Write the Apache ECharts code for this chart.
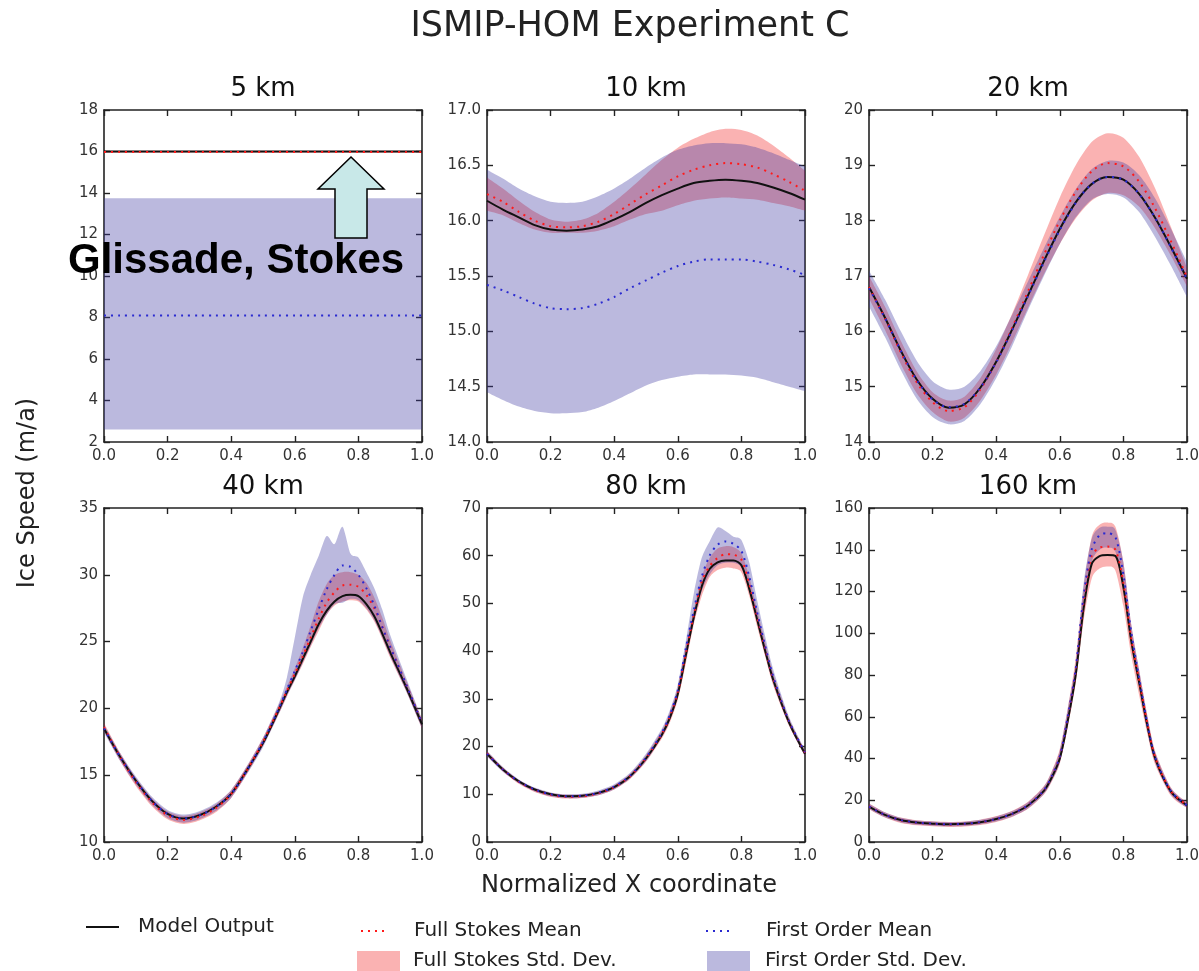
<!DOCTYPE html>
<html><head><meta charset="utf-8">
<script src="https://cdn.jsdelivr.net/npm/echarts@6/dist/echarts.min.js"></script>
<style>html,body{margin:0;padding:0;background:#fff}#c{width:1199px;height:971px}</style>
</head><body><div id="c"></div><script>
// ---------------- DATA ----------------
const panelTitles = ['5 km', '10 km', '20 km', '40 km', '80 km', '160 km'];
const legendNames = ['Model Output', 'Full Stokes Mean', 'Full Stokes Std. Dev.', 'First Order Mean', 'First Order Std. Dev.'];

const xTop = [0,0.05,0.1,0.15,0.2,0.25,0.3,0.35,0.4,0.45,0.5,0.55,0.6,0.65,0.7,0.75,0.8,0.85,0.9,0.95,1.0];
const xBot = [0,0.05,0.1,0.15,0.2,0.25,0.3,0.35,0.4,0.45,0.5,0.55,0.575,0.6,0.625,0.65,0.675,0.7,0.725,0.75,0.775,0.8,0.825,0.85,0.875,0.9,0.95,1.0];

// Y axis ticks [min, max, interval] per panel
const yMin = [2, 14, 14, 10, 0, 0];
const yMax = [18, 17, 20, 35, 70, 160];
const yStep = [2, 0.5, 1, 5, 10, 20];
const yDecimals = [0, 1, 0, 0, 0, 0];
const xTicks = [0, 0.2, 0.4, 0.6, 0.8, 1.0];

// 5 km
const km5_model  = [16.0,16.0,16.0,16.0,16.0,16.0,16.0,16.0,16.0,16.0,16.0,16.0,16.0,16.0,16.0,16.0,16.0,16.0,16.0,16.0,16.0];
const km5_fsMean = [15.98,15.98,15.98,15.98,15.98,15.98,15.98,15.98,15.98,15.98,15.98,15.98,15.98,15.98,15.98,15.98,15.98,15.98,15.98,15.98,15.98];
const km5_fsLo   = [15.94,15.94,15.94,15.94,15.94,15.94,15.94,15.94,15.94,15.94,15.94,15.94,15.94,15.94,15.94,15.94,15.94,15.94,15.94,15.94,15.94];
const km5_fsHi   = [16.04,16.04,16.04,16.04,16.04,16.04,16.04,16.04,16.04,16.04,16.04,16.04,16.04,16.04,16.04,16.04,16.04,16.04,16.04,16.04,16.04];
const km5_foMean = [8.1,8.1,8.1,8.1,8.1,8.1,8.1,8.1,8.1,8.1,8.1,8.1,8.1,8.1,8.1,8.1,8.1,8.1,8.1,8.1,8.1];
const km5_foLo   = [2.6,2.6,2.6,2.6,2.6,2.6,2.6,2.6,2.6,2.6,2.6,2.6,2.6,2.6,2.6,2.6,2.6,2.6,2.6,2.6,2.6];
const km5_foHi   = [13.75,13.75,13.75,13.75,13.75,13.75,13.75,13.75,13.75,13.75,13.75,13.75,13.75,13.75,13.75,13.75,13.75,13.75,13.75,13.75,13.75];

// 10 km
const km10_model  = [16.18,16.10,16.03,15.96,15.92,15.91,15.92,15.95,16.01,16.08,16.16,16.23,16.29,16.34,16.36,16.37,16.36,16.34,16.30,16.25,16.19];
const km10_fsMean = [16.24,16.17,16.08,16.00,15.95,15.94,15.95,15.99,16.06,16.15,16.24,16.32,16.40,16.46,16.50,16.52,16.51,16.48,16.42,16.35,16.27];
const km10_fsLo   = [16.09,16.05,15.98,15.92,15.89,15.89,15.89,15.91,15.95,16.01,16.06,16.09,16.14,16.18,16.20,16.21,16.20,16.19,16.16,16.13,16.09];
const km10_fsHi   = [16.39,16.29,16.18,16.08,16.01,15.99,16.01,16.07,16.17,16.29,16.42,16.55,16.66,16.74,16.80,16.83,16.82,16.77,16.68,16.57,16.45];
const km10_foMean = [15.42,15.37,15.31,15.25,15.21,15.20,15.21,15.25,15.31,15.39,15.46,15.53,15.59,15.63,15.65,15.65,15.65,15.63,15.60,15.56,15.51];
const km10_foLo   = [14.45,14.38,14.32,14.28,14.26,14.26,14.27,14.31,14.37,14.44,14.51,14.56,14.59,14.61,14.61,14.61,14.60,14.58,14.54,14.50,14.46];
const km10_foHi   = [16.46,16.38,16.29,16.22,16.17,16.16,16.17,16.22,16.29,16.38,16.48,16.57,16.64,16.68,16.70,16.70,16.69,16.66,16.61,16.55,16.49];

// 20 km
const km20_model  = [16.80,16.25,15.65,15.13,14.78,14.62,14.68,14.98,15.45,16.03,16.65,17.27,17.85,18.33,18.66,18.79,18.74,18.48,18.05,17.52,16.95];
const km20_fsMean = [16.80,16.24,15.62,15.08,14.72,14.56,14.63,14.95,15.45,16.06,16.72,17.38,18.00,18.52,18.89,19.04,18.98,18.70,18.22,17.62,16.98];
const km20_fsLo   = [16.60,16.03,15.41,14.88,14.54,14.37,14.44,14.75,15.22,15.80,16.42,17.03,17.58,18.04,18.36,18.50,18.46,18.25,17.86,17.36,16.81];
const km20_fsHi   = [17.00,16.45,15.83,15.28,14.90,14.75,14.82,15.15,15.68,16.32,17.02,17.73,18.42,19.00,19.42,19.58,19.50,19.15,18.58,17.88,17.15];
const km20_foMean = [16.78,16.24,15.65,15.12,14.77,14.63,14.69,14.98,15.44,16.02,16.64,17.25,17.83,18.32,18.66,18.79,18.74,18.48,18.05,17.51,16.94];
const km20_foLo   = [16.45,15.90,15.30,14.78,14.45,14.32,14.38,14.68,15.15,15.73,16.38,17.00,17.58,18.06,18.38,18.48,18.42,18.15,17.70,17.18,16.62];
const km20_foHi   = [17.10,16.58,16.00,15.47,15.10,14.95,15.00,15.28,15.73,16.30,16.90,17.50,18.07,18.57,18.93,19.08,19.05,18.82,18.40,17.85,17.25];

// 40 km
const km40_model  = [18.5,16.4,14.6,13.1,12.1,11.75,12.0,12.6,13.6,15.4,17.4,19.9,21.2,22.4,23.7,25.0,26.3,27.3,28.0,28.4,28.5,28.4,27.8,26.9,25.6,24.2,21.6,18.8];
const km40_fsMean = [18.6,16.4,14.5,13.0,12.0,11.65,11.9,12.5,13.6,15.4,17.5,20.0,21.3,22.6,23.9,25.3,26.7,27.9,28.7,29.2,29.25,29.1,28.5,27.5,26.1,24.6,21.8,18.9];
const km40_fsLo   = [18.3,16.1,14.2,12.7,11.7,11.35,11.6,12.2,13.3,15.1,17.2,19.6,20.9,22.1,23.3,24.6,25.8,27.0,27.7,28.0,28.1,28.0,27.4,26.5,25.2,23.8,21.3,18.5];
const km40_fsHi   = [18.9,16.7,14.8,13.3,12.3,11.95,12.2,12.8,13.9,15.7,17.8,20.3,21.6,23.0,24.5,26.2,28.0,29.3,30.0,30.2,30.2,30.0,29.4,28.3,26.8,25.1,22.1,19.2];
const km40_foMean = [18.5,16.4,14.6,13.1,12.1,11.75,12.0,12.6,13.6,15.4,17.5,20.0,21.4,22.8,24.2,25.8,27.4,28.9,30.0,30.7,30.6,30.0,29.0,27.7,26.1,24.6,21.8,18.9];
const km40_foLo   = [18.2,16.1,14.3,12.8,11.8,11.45,11.7,12.3,13.3,15.1,17.1,19.6,20.9,22.1,23.4,24.7,26.0,27.0,27.8,27.9,28.2,28.1,27.5,26.6,25.3,23.9,21.3,18.5];
const km40_foHi   = [18.8,16.7,14.9,13.4,12.4,12.05,12.3,12.9,13.9,15.7,17.8,20.4,22.3,25.3,28.3,30.0,31.4,32.9,32.3,33.6,31.6,31.3,30.2,29.0,27.4,25.5,22.3,19.2];

// 80 km
const km80_model  = [18.5,15.2,12.7,11.0,10.0,9.6,9.7,10.3,11.5,13.8,17.5,22.5,26.0,31.0,39.0,47.0,53.5,57.2,58.6,59.0,59.0,58.0,53.0,46.5,40.0,34.0,25.0,18.5];
const km80_fsMean = [18.6,15.2,12.6,10.9,9.9,9.5,9.6,10.2,11.5,13.8,17.6,22.7,26.3,31.4,39.5,47.5,54.5,57.8,59.5,60.3,60.2,59.2,54.0,47.0,40.5,34.3,25.2,18.7];
const km80_fsLo   = [18.0,14.8,12.2,10.5,9.5,9.1,9.2,9.8,11.0,13.2,16.8,21.7,25.0,29.8,37.3,45.5,51.5,55.5,57.0,57.5,57.3,56.5,51.5,45.0,38.8,32.8,24.3,18.0];
const km80_fsHi   = [19.0,15.6,13.0,11.3,10.3,9.9,10.0,10.6,11.9,14.3,18.2,23.4,27.2,32.5,41.0,48.5,55.5,59.5,61.5,62.0,61.8,60.5,55.5,48.5,41.8,35.3,25.9,19.2];
const km80_foMean = [18.5,15.2,12.7,11.0,10.0,9.6,9.7,10.3,11.6,13.9,17.7,22.9,26.6,31.8,40.5,48.5,55.5,60.0,62.3,63.0,62.5,61.0,55.5,48.0,41.0,34.7,25.3,18.8];
const km80_foLo   = [17.9,14.7,12.3,10.6,9.6,9.2,9.3,9.8,11.0,13.3,16.9,22.0,25.4,30.5,38.5,46.0,52.5,56.0,58.0,58.5,58.5,57.5,52.5,46.0,39.5,33.2,24.5,18.0];
const km80_foHi   = [19.1,15.7,13.1,11.4,10.4,10.0,10.1,10.8,12.1,14.5,18.5,23.8,27.6,33.0,42.0,52.0,59.5,63.0,65.9,65.2,64.0,63.3,58.5,50.5,43.0,36.2,26.2,19.3];

// 160 km
const km160_model  = [17.0,13.0,10.5,9.3,8.8,8.5,8.7,9.5,11.0,13.5,17.5,24.5,31.0,40.0,58.0,80.0,112.0,133.0,137.0,137.5,137.0,122.0,96.0,76.0,56.0,40.0,24.0,17.5];
const km160_fsMean = [17.1,13.0,10.4,9.2,8.7,8.4,8.6,9.4,11.0,13.5,17.6,24.8,31.5,41.0,59.5,82.0,115.0,137.0,141.0,141.5,140.0,124.0,97.0,77.0,57.0,40.5,24.2,17.6];
const km160_fsLo   = [15.7,11.7,9.1,8.0,7.5,7.2,7.4,8.1,9.6,12.0,15.9,22.8,29.0,37.5,55.0,76.0,106.0,126.0,131.0,132.0,130.0,113.0,89.0,70.0,52.0,37.0,22.0,16.2];
const km160_fsHi   = [18.5,14.3,11.7,10.4,9.9,9.6,9.8,10.7,12.4,15.0,19.3,26.8,34.0,44.5,64.0,88.0,122.0,146.0,152.0,153.0,151.0,134.0,104.0,82.0,61.0,43.5,26.0,19.0];
const km160_foMean = [17.0,13.0,10.5,9.3,8.8,8.5,8.7,9.5,11.0,13.5,17.6,24.8,31.6,41.0,60.0,83.0,118.0,140.0,147.0,148.0,146.0,128.0,100.0,78.0,57.0,40.5,24.2,17.6];
const km160_foLo   = [15.8,11.8,9.4,8.3,7.8,7.5,7.7,8.4,9.8,12.2,16.1,23.0,29.4,38.0,56.0,79.0,112.0,134.0,140.0,141.0,139.0,122.0,96.0,74.0,53.5,38.0,22.6,16.3];
const km160_foHi   = [18.3,14.2,11.6,10.3,9.8,9.5,9.7,10.6,12.2,14.8,19.1,26.6,33.8,44.0,64.0,86.0,124.0,145.0,150.5,151.0,149.5,134.0,104.0,82.0,60.5,43.0,25.8,18.9];

// ---------------- LAYOUT / STYLE ----------------
const FONT = '"DejaVu Sans", sans-serif';
const FRAME = '#222';
const RED_FILL = 'rgba(240,0,0,0.30)';
const BLUE_FILL = 'rgba(60,55,160,0.35)';
const RED_LINE = '#ff1a1a';
const BLUE_LINE = '#2a2ad0';

const grids = [
  {left: 104, top: 110, width: 318, height: 332},
  {left: 487, top: 110, width: 318, height: 332},
  {left: 869, top: 110, width: 318, height: 332},
  {left: 104, top: 508, width: 318, height: 334},
  {left: 487, top: 508, width: 318, height: 334},
  {left: 869, top: 508, width: 318, height: 334}
].map(g => Object.assign({outerBoundsMode: 'none', containLabel: false, show: false}, g));

const panels = [
  [xTop, km5_model, km5_fsMean, km5_fsLo, km5_fsHi, km5_foMean, km5_foLo, km5_foHi],
  [xTop, km10_model, km10_fsMean, km10_fsLo, km10_fsHi, km10_foMean, km10_foLo, km10_foHi],
  [xTop, km20_model, km20_fsMean, km20_fsLo, km20_fsHi, km20_foMean, km20_foLo, km20_foHi],
  [xBot, km40_model, km40_fsMean, km40_fsLo, km40_fsHi, km40_foMean, km40_foLo, km40_foHi],
  [xBot, km80_model, km80_fsMean, km80_fsLo, km80_fsHi, km80_foMean, km80_foLo, km80_foHi],
  [xBot, km160_model, km160_fsMean, km160_fsLo, km160_fsHi, km160_foMean, km160_foLo, km160_foHi]
];

function axisCommon(showLabel) {
  return {
    axisLine: {show: true, onZero: false, lineStyle: {color: FRAME, width: 1.6}},
    axisTick: {show: true, inside: true, length: 6, lineStyle: {color: FRAME, width: 1.4}},
    splitLine: {show: false},
    axisLabel: {show: showLabel, fontSize: 15, color: '#333', fontFamily: FONT},
    silent: true
  };
}

// Catmull-Rom curve through pixel points (x-monotone), returned as SVG path commands
function curvePath(pts) {
  let d = '';
  const t = 0.8;
  for (let i = 0; i < pts.length - 1; i++) {
    const p0 = pts[Math.max(0, i - 1)], p1 = pts[i], p2 = pts[i + 1], p3 = pts[Math.min(pts.length - 1, i + 2)];
    const c1x = p1[0] + (p2[0] - p0[0]) / 6 * t, c1y = p1[1] + (p2[1] - p0[1]) / 6 * t;
    const c2x = p2[0] - (p3[0] - p1[0]) / 6 * t, c2y = p2[1] - (p3[1] - p1[1]) / 6 * t;
    d += ' C' + c1x.toFixed(2) + ' ' + c1y.toFixed(2) + ' ' + c2x.toFixed(2) + ' ' + c2y.toFixed(2) + ' ' + p2[0].toFixed(2) + ' ' + p2[1].toFixed(2);
  }
  return d;
}

function bandSeries(p, name, xs, lo, hi, color) {
  return {
    type: 'custom', name: name, xAxisIndex: p * 2, yAxisIndex: p * 2, clip: true, silent: true, animation: false,
    itemStyle: {color: color},
    data: xs.map((x, i) => [x, lo[i], hi[i]]),
    encode: {x: 0, y: [1, 2]},
    renderItem: function (params, api) {
      if (params.dataIndexInside !== 0) return null;
      const up = xs.map((x, i) => api.coord([x, hi[i]]));
      const dn = xs.map((x, i) => api.coord([x, lo[i]])).reverse();
      const d = 'M' + up[0][0] + ' ' + up[0][1] + curvePath(up) + ' L' + dn[0][0] + ' ' + dn[0][1] + curvePath(dn) + ' Z';
      return {type: 'path', shape: {pathData: d}, style: {fill: color, stroke: null}};
    }
  };
}

const xAxes = [], yAxes = [], series = [];
grids.forEach((g, p) => {
  ['bottom', 'top'].forEach(pos => {
    const a = Object.assign({type: 'value', gridIndex: p, position: pos, min: xTicks[0], max: xTicks[xTicks.length - 1], interval: xTicks[1] - xTicks[0]}, axisCommon(pos === 'bottom'));
    a.axisLabel.formatter = v => v.toFixed(1);
    a.axisLabel.margin = 7;
    xAxes.push(a);
  });
  ['left', 'right'].forEach(pos => {
    const a = Object.assign({type: 'value', gridIndex: p, position: pos, min: yMin[p], max: yMax[p], interval: yStep[p]}, axisCommon(pos === 'left'));
    a.axisLabel.formatter = v => v.toFixed(yDecimals[p]);
    a.axisLabel.margin = 6;
    yAxes.push(a);
  });

  const [xs, model, fsM, fsL, fsH, foM, foL, foH] = panels[p];
  const pair = arr => xs.map((x, i) => [x, arr[i]]);
  const base = {type: 'line', xAxisIndex: p * 2, yAxisIndex: p * 2, symbol: 'none', smooth: 0.3, silent: true, animation: false};

  series.push(bandSeries(p, 'Full Stokes Std. Dev.', xs, fsL, fsH, RED_FILL));
  series.push(bandSeries(p, 'First Order Std. Dev.', xs, foL, foH, BLUE_FILL));
  series.push(Object.assign({}, base, {name: 'Model Output', data: pair(model), itemStyle: {color: '#111'}, lineStyle: {color: '#111', width: 2}}));
  series.push(Object.assign({}, base, {name: 'Full Stokes Mean', data: pair(fsM), itemStyle: {color: RED_LINE}, lineStyle: {color: RED_LINE, width: 2, type: [2, 5]}}));
  series.push(Object.assign({}, base, {name: 'First Order Mean', data: pair(foM), itemStyle: {color: BLUE_LINE}, lineStyle: {color: BLUE_LINE, width: 2, type: [2, 5]}}));
});

const titles = [{text: 'ISMIP-HOM Experiment C', left: 630, top: 9, textAlign: 'center', padding: 0,
  textStyle: {fontSize: 35, fontWeight: 'normal', color: '#222', fontFamily: FONT}}];
grids.forEach((g, p) => titles.push({text: panelTitles[p], left: g.left + g.width / 2, top: g.top - 34, textAlign: 'center', padding: 0,
  textStyle: {fontSize: 26, fontWeight: 'normal', color: '#111', fontFamily: FONT}}));

const legTxt = pad => ({fontSize: 20, color: '#222', fontFamily: FONT, padding: [0, 0, 0, pad]});
const hidden = {opacity: 0, color: 'rgba(0,0,0,0)', borderWidth: 0};
const legends = [
  {data: [{name: legendNames[0], itemStyle: hidden}], left: 85, top: 917, itemWidth: 33, itemHeight: 18, padding: 0, selectedMode: false, textStyle: legTxt(14)},
  {data: [{name: legendNames[1], itemStyle: hidden}], left: 360, top: 921, itemWidth: 28, itemHeight: 18, padding: 0, selectedMode: false, textStyle: legTxt(20)},
  {data: [{name: legendNames[2], icon: 'rect', itemStyle: {color: RED_FILL, borderWidth: 0}}], left: 357, top: 951, itemWidth: 43, itemHeight: 20, padding: 0, selectedMode: false, textStyle: legTxt(8)},
  {data: [{name: legendNames[3], itemStyle: hidden}], left: 705, top: 921, itemWidth: 28, itemHeight: 18, padding: 0, selectedMode: false, textStyle: legTxt(27)},
  {data: [{name: legendNames[4], icon: 'rect', itemStyle: {color: BLUE_FILL, borderWidth: 0}}], left: 707, top: 951, itemWidth: 43, itemHeight: 20, padding: 0, selectedMode: false, textStyle: legTxt(10)}
];

const chart = echarts.init(document.getElementById('c'), null, {renderer: 'canvas'});
chart.setOption({
  backgroundColor: '#fff',
  animation: false,
  title: titles,
  legend: legends,
  grid: grids,
  xAxis: xAxes,
  yAxis: yAxes,
  series: series,
  graphic: [
    {type: 'text', x: 28, y: 493, rotation: Math.PI / 2, silent: true,
     style: {text: 'Ice Speed (m/a)', font: '24px ' + FONT, fill: '#222', textAlign: 'center', textVerticalAlign: 'middle'}},
    {type: 'text', x: 629, y: 886, silent: true,
     style: {text: 'Normalized X coordinate', font: '24px ' + FONT, fill: '#222', textAlign: 'center', textVerticalAlign: 'middle'}},
    {type: 'polygon', z: 100, silent: true,
     shape: {points: [[351, 157], [384, 189], [367, 189], [367, 238], [335, 238], [335, 189], [318, 189]]},
     style: {fill: '#c8e8e8', stroke: '#000', lineWidth: 1.5}},
    {type: 'text', x: 68, y: 261, z: 100, silent: true,
     style: {text: 'Glissade, Stokes', font: 'bold 42px "Liberation Sans", Arial, sans-serif', fill: '#000', textAlign: 'left', textVerticalAlign: 'middle'}}
  ]
});
</script></body></html>
